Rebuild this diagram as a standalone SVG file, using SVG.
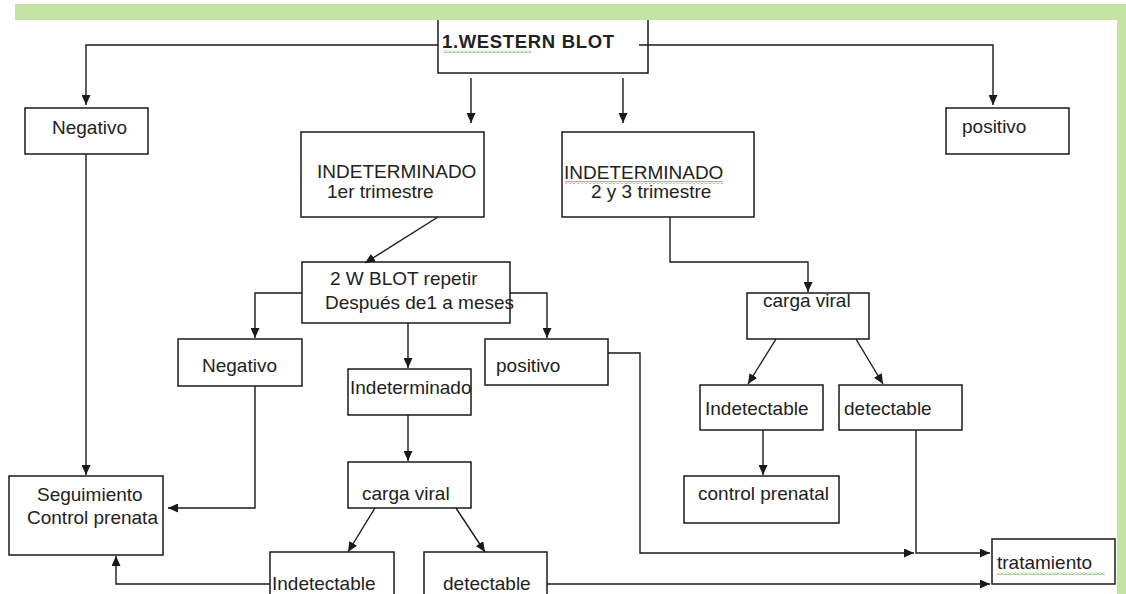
<svg xmlns="http://www.w3.org/2000/svg" width="1126" height="594" viewBox="0 0 1126 594">
<defs>
<style>
.box{fill:#fff;stroke:#1a1a1a;stroke-width:1.5}
.t{font-family:"Liberation Sans",Arial,sans-serif;font-size:19px;fill:#222}
.b{font-weight:bold;font-size:18.5px}
.c{fill:none;stroke:#1a1a1a;stroke-width:1.4;marker-end:url(#ah)}
.band{fill:#c6e2a4}
</style>
<marker id="ah" markerUnits="userSpaceOnUse" markerWidth="10" markerHeight="9" refX="10" refY="4.5" orient="auto">
<path d="M0,0 L10,4.5 L0,9 z" fill="#1a1a1a"/>
</marker>
<pattern id="sqG" patternUnits="userSpaceOnUse" width="4" height="3">
<path d="M0,2.5 L2,0.5 L4,2.5" fill="none" stroke="#5aa83c" stroke-width="1"/>
</pattern>
<pattern id="sqR" patternUnits="userSpaceOnUse" width="4" height="3">
<path d="M0,2.5 L2,0.5 L4,2.5" fill="none" stroke="#d83030" stroke-width="1"/>
</pattern>
</defs>
<rect width="1126" height="594" fill="#fff"/>

<g id="wb">
<rect class="box" x="438" y="14" width="210" height="59"/>
<text class="t b" x="442" y="48" textLength="172" lengthAdjust="spacing">1.WESTERN BLOT</text>
<rect x="443" y="50" width="88" height="3" fill="url(#sqG)"/>
</g>
<g id="neg1"><rect class="box" x="25" y="108" width="123" height="46"/><text class="t" x="52" y="134">Negativo</text></g>
<g id="pos1"><rect class="box" x="946" y="108" width="123" height="46"/><text class="t" x="962" y="133">positivo</text></g>
<g id="ind1"><rect class="box" x="301" y="132" width="183" height="85"/>
<text class="t" x="317" y="178">INDETERMINADO</text><text class="t" x="327" y="198">1er trimestre</text></g>
<g id="ind2"><rect class="box" x="562" y="132" width="192" height="85"/>
<text class="t" x="564" y="179">INDETERMINADO</text>
<rect x="565" y="181" width="158" height="3" fill="url(#sqR)"/>
<text class="t" x="591" y="198">2 y 3 trimestre</text></g>
<g id="wb2"><rect class="box" x="302" y="262" width="208" height="61"/>
<text class="t" x="330" y="285">2 W BLOT repetir</text><text class="t" x="325" y="309">Después de1 a meses</text></g>
<g id="neg2"><rect class="box" x="178" y="339" width="124" height="47"/><text class="t" x="202" y="372">Negativo</text></g>
<g id="indet"><rect class="box" x="348" y="369" width="123" height="46"/><text class="t" x="350" y="394">Indeterminado</text></g>
<g id="pos2"><rect class="box" x="485" y="339" width="123" height="46"/><text class="t" x="496" y="372">positivo</text></g>
<g id="cvR"><rect class="box" x="747" y="293" width="122" height="46"/><text class="t" x="763" y="307">carga viral</text></g>
<g id="seg"><rect class="box" x="9" y="476" width="154" height="79"/>
<text class="t" x="37" y="501">Seguimiento</text><text class="t" x="27" y="524">Control prenata</text></g>
<g id="cvL"><rect class="box" x="348" y="462" width="123" height="46"/><text class="t" x="362" y="500">carga viral</text></g>
<g id="indetR"><rect class="box" x="700" y="385" width="123" height="45"/><text class="t" x="705" y="415">Indetectable</text></g>
<g id="detR"><rect class="box" x="839" y="385" width="123" height="45"/><text class="t" x="844" y="415">detectable</text></g>
<g id="ctrl"><rect class="box" x="684" y="476" width="155" height="47"/><text class="t" x="698" y="500">control prenatal</text></g>
<g id="indetL"><rect class="box" x="270" y="552" width="124" height="50"/><text class="t" x="272" y="590">Indetectable</text></g>
<g id="detL"><rect class="box" x="424" y="552" width="123" height="50"/><text class="t" x="443" y="590">detectable</text></g>
<g id="trat"><rect class="box" x="992" y="539" width="123" height="45"/><text class="t" x="997" y="569">tratamiento</text>
<rect x="997" y="572" width="108" height="3" fill="url(#sqG)"/></g>

<g id="connectors">
<path class="c" d="M438,45 H86 V105"/>
<path class="c" d="M639,45 H993 V105"/>
<path class="c" d="M471,78 V123"/>
<path class="c" d="M623,78 V123"/>
<path class="c" d="M86,154 V475"/>
<path class="c" d="M438,217 L365,263"/>
<path class="c" d="M670,217 V262 H808 V292"/>
<path class="c" d="M302,293 H255 V338"/>
<path class="c" d="M408,323 V368"/>
<path class="c" d="M510,293 H547 V338"/>
<path class="c" d="M255,386 V508 H168"/>
<path class="c" d="M408,415 V461"/>
<path class="c" d="M375,508 L348,552"/>
<path class="c" d="M456,508 L485,552"/>
<path class="c" d="M270,584 H116 V556"/>
<path class="c" d="M547,584 H990"/>
<path class="c" d="M608,353 H640 V553 H914"/>
<path class="c" d="M776,339 L748,384"/>
<path class="c" d="M856,339 L883,384"/>
<path class="c" d="M763,430 V475"/>
<path class="c" d="M916,430 V553 H990"/>
</g>

<rect class="band" x="15" y="4" width="1111" height="16"/>
<rect class="band" x="1117" y="4" width="9" height="590"/>
</svg>
